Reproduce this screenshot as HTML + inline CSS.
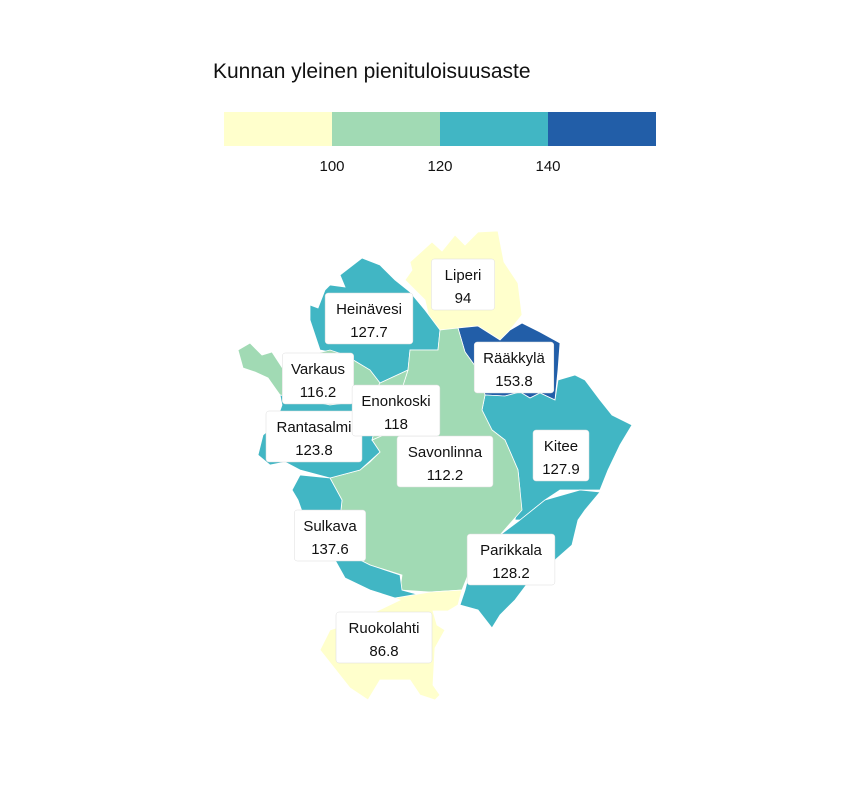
<!DOCTYPE html>
<html><head><meta charset="utf-8"><style>
body{margin:0;background:#fff;font-family:"Liberation Sans",sans-serif}
svg{display:block}
.lbl rect{fill:#fff;stroke:#ddd;stroke-width:.5}
.lbl text{font-size:15px;fill:#111;text-anchor:middle}
</style></head><body>
<svg width="864" height="792" viewBox="0 0 864 792">
<text x="213" y="78" font-size="21" fill="#111">Kunnan yleinen pienituloisuusaste</text>
<g id="legend"></g>
<g id="regions" stroke="#fff" stroke-width="0.8"></g>
<g id="labels"></g>
</svg>
<script>
const names=["Liperi","Heinävesi","Rääkkylä","Kitee","Parikkala","Savonlinna","Varkaus","Rantasalmi","Sulkava","Ruokolahti","Enonkoski"];
const values=[94,127.7,153.8,127.9,128.2,112.2,116.2,123.8,137.6,86.8,118];
const breaks=[100,120,140];
const colors=["#ffffcc","#a1dab4","#41b6c4","#225ea8"];
const shapes={
"Liperi":"410,262 432,242 442,251 455,235 465,245 478,232 498,231 504,262 518,283 522,315 510,330 500,340 478,326 458,328 440,335 430,322 425,300 405,280 412,270",
"Heinävesi":"340,275 362,258 380,265 395,280 410,292 425,310 440,330 438,350 410,350 408,370 380,383 370,370 345,355 320,350 310,320 310,305 318,308 325,290 330,285 345,287",
"Rääkkylä":"458,328 478,326 500,340 510,330 522,323 540,332 560,343 558,370 555,400 540,393 530,398 520,392 505,396 485,395 478,370 465,352",
"Kitee":"485,395 505,396 520,392 530,398 540,393 555,400 558,380 575,375 585,380 600,400 612,415 632,425 620,445 608,470 600,490 560,490 545,500 520,520 515,520 520,490 518,470 505,440 492,430 482,410",
"Parikkala":"520,520 545,500 580,490 600,492 585,510 578,520 572,545 555,560 530,580 515,600 500,615 492,628 478,610 460,605 465,590 470,570 478,555 500,535",
"Savonlinna":"440,330 458,328 465,352 478,370 485,395 482,410 492,430 505,440 518,470 520,490 522,510 500,535 478,555 470,570 462,590 430,592 400,590 402,575 370,565 360,560 355,550 340,520 342,500 330,478 360,470 370,462 380,452 372,440 395,430 400,395 408,370 410,350 438,350",
"Varkaus":"238,350 250,343 262,355 272,352 285,372 300,370 310,355 330,350 345,355 370,370 380,383 370,400 330,405 280,395 268,378 255,372 243,368",
"Rantasalmi":"280,395 330,405 370,400 380,410 372,440 380,452 360,470 330,478 300,470 285,462 270,465 258,455 263,435 275,425 282,405",
"Sulkava":"300,475 330,478 342,500 340,520 355,550 360,560 370,565 400,575 402,590 420,595 395,598 370,590 345,578 335,560 320,545 305,520 298,500 292,490",
"Ruokolahti":"395,598 430,592 462,590 458,605 448,611 433,611 437,625 445,630 435,648 433,685 440,695 435,700 420,695 410,680 380,680 368,700 350,688 320,650 330,630 345,625 340,615 352,614 360,620 375,612 400,600",
"Enonkoski":"380,383 408,370 400,395 395,430 372,440 380,410 370,400"
};
const labelPos={"Liperi":[463,284],"Heinävesi":[369,318],"Rääkkylä":[514,367],"Kitee":[561,455],"Parikkala":[511,559],"Savonlinna":[445,461],"Varkaus":[318,378],"Rantasalmi":[314,436],"Sulkava":[330,535],"Ruokolahti":[384,637],"Enonkoski":[396,410]};
const NS="http://www.w3.org/2000/svg";
function colorFor(v){let i=0;while(i<breaks.length&&v>=breaks[i])i++;return colors[i];}
// legend
const lg=document.getElementById('legend');
const x0=224,segW=108;
colors.forEach((c,i)=>{
 const r=document.createElementNS(NS,'rect');
 r.setAttribute('x',x0+i*segW);r.setAttribute('y',112);r.setAttribute('width',segW);r.setAttribute('height',34);r.setAttribute('fill',c);
 
 
 lg.appendChild(r);
});
breaks.forEach((b,i)=>{
 const t=document.createElementNS(NS,'text');
 t.setAttribute('x',x0+(i+1)*segW);t.setAttribute('y',171);t.setAttribute('font-size','15');t.setAttribute('text-anchor','middle');t.setAttribute('fill','#111');
 t.textContent=b;
 
 
 lg.appendChild(t);
});
const rg=document.getElementById('regions'),lb=document.getElementById('labels');
names.forEach((n,i)=>{
 const p=document.createElementNS(NS,'polygon');
 p.setAttribute('points',shapes[n]);p.setAttribute('fill',colorFor(values[i]));
 
 
 rg.appendChild(p);
});
names.forEach((n,i)=>{
 const [cx,cy]=labelPos[n];
 const g=document.createElementNS(NS,'g');g.setAttribute('class','lbl');
 
 
 const w=Math.max(n.length*8.2+14,56);
 const r=document.createElementNS(NS,'rect');
 r.setAttribute('x',cx-w/2);r.setAttribute('y',cy-25);r.setAttribute('width',w);r.setAttribute('height',51);r.setAttribute('rx',3);
 g.appendChild(r);
 const t1=document.createElementNS(NS,'text');t1.setAttribute('x',cx);t1.setAttribute('y',cy-4);t1.textContent=n;g.appendChild(t1);
 const t2=document.createElementNS(NS,'text');t2.setAttribute('x',cx);t2.setAttribute('y',cy+19);t2.textContent=values[i];g.appendChild(t2);
 lb.appendChild(g);
});
</script>
</body></html>
